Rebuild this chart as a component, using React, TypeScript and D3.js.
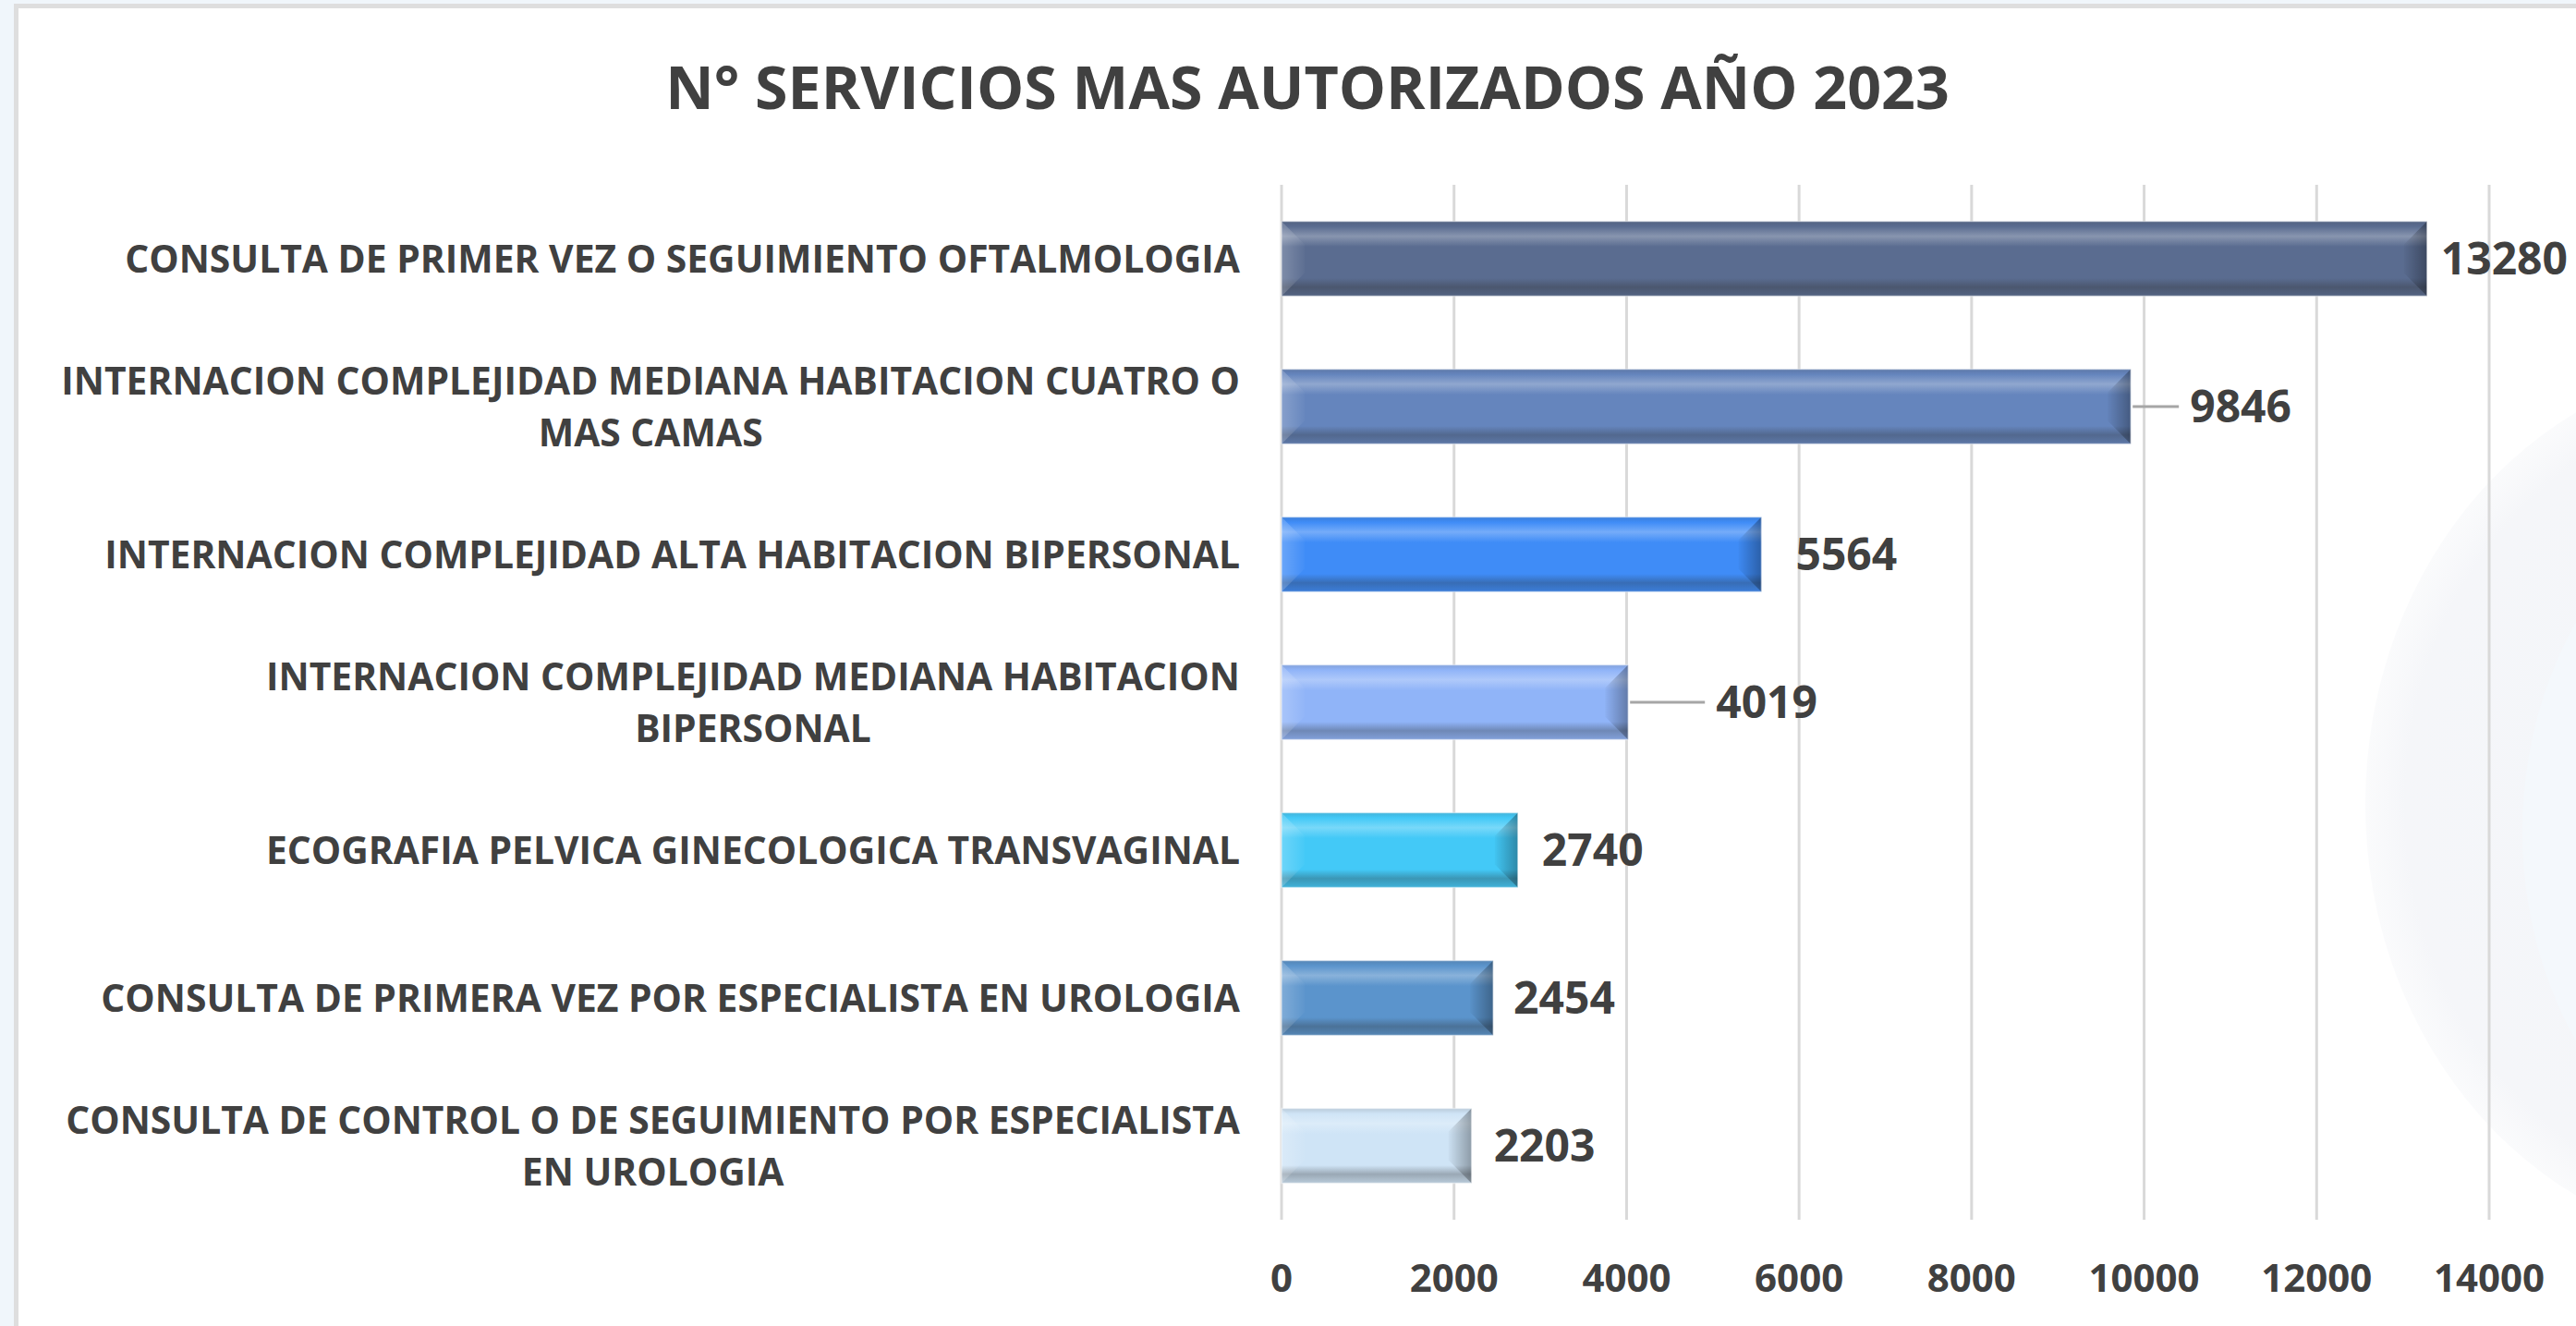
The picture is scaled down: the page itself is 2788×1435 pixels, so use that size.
import React from "react";
import * as d3 from "d3";

const TITLE = "N° SERVICIOS MAS AUTORIZADOS AÑO 2023";
const categories = [
  "CONSULTA DE PRIMER VEZ O SEGUIMIENTO OFTALMOLOGIA",
  "INTERNACION COMPLEJIDAD MEDIANA HABITACION CUATRO O\nMAS CAMAS",
  "INTERNACION COMPLEJIDAD ALTA HABITACION BIPERSONAL",
  "INTERNACION COMPLEJIDAD MEDIANA HABITACION\nBIPERSONAL",
  "ECOGRAFIA PELVICA GINECOLOGICA TRANSVAGINAL",
  "CONSULTA DE PRIMERA VEZ POR ESPECIALISTA EN UROLOGIA",
  "CONSULTA DE CONTROL O DE SEGUIMIENTO POR ESPECIALISTA\nEN UROLOGIA",
];
const values = [13280, 9846, 5564, 4019, 2740, 2454, 2203];
const xTicks = [0, 2000, 4000, 6000, 8000, 10000, 12000, 14000];
const barColors = ["#5a6c90", "#6585bd", "#3f8cf7", "#90b4f8", "#43c9f7", "#5b94cc", "#cfe4f6"];
const labelGaps = [15, 64, 37, 95, 26, 22, 24];
const hasLeader = [false, true, false, true, false, false, false];

const W = 2788;
const H = 1435;
const FONT = "'Open Sans', 'DejaVu Sans', sans-serif";
const TEXT = "#404040";

function measure(text: string, size: number): number {
  const c = document.createElement("canvas");
  const ctx = c.getContext("2d");
  if (!ctx) return text.length * size * 0.6;
  ctx.font = `bold ${size}px 'Open Sans'`;
  return ctx.measureText(text).width;
}

export default function App() {
  const x = d3.scaleLinear().domain([0, 14000]).range([1387, 2694]);
  const y = d3
    .scaleBand<number>()
    .domain(d3.range(categories.length))
    .range([200, 1320])
    .paddingInner(0.494)
    .paddingOuter(0.247);
  const bw = y.bandwidth();
  const bev = 25;
  const catSize = 40.8;
  const labelRight = 1342;

  return (
    <svg width={W} height={H} style={{ position: "absolute", left: 0, top: 0 }} fontFamily={FONT}>
      <defs>
        {barColors.map((c, i) => {
          const base = d3.color(c)!.formatHex();
          const hi = d3.interpolateRgb(c, "#ffffff")(0.28);
          const dk = d3.interpolateRgb(c, "#2a2a2a")(0.32);
          const dk2 = d3.interpolateRgb(c, "#2a2a2a")(0.14);
          return (
            <linearGradient key={i} id={`vg${i}`} x1="0" y1="0" x2="0" y2="1">
              <stop offset="0" stopColor={dk2} />
              <stop offset="0.07" stopColor={base} />
              <stop offset="0.2" stopColor={hi} />
              <stop offset="0.34" stopColor={base} />
              <stop offset="0.76" stopColor={base} />
              <stop offset="0.88" stopColor={dk} />
              <stop offset="1" stopColor={dk2} />
            </linearGradient>
          );
        })}
        <linearGradient id="lg" x1="0" y1="0" x2="1" y2="0">
          <stop offset="0" stopColor="#ffffff" stopOpacity="0.22" />
          <stop offset="1" stopColor="#ffffff" stopOpacity="0.02" />
        </linearGradient>
        <linearGradient id="rg" x1="0" y1="0" x2="1" y2="0">
          <stop offset="0" stopColor="#000000" stopOpacity="0.02" />
          <stop offset="1" stopColor="#000000" stopOpacity="0.32" />
        </linearGradient>
        <radialGradient id="deco" cx="0.5" cy="0.5" r="0.5">
          <stop offset="0" stopColor="#f3f6fa" stopOpacity="1" />
          <stop offset="0.9" stopColor="#f5f6f9" stopOpacity="1" />
          <stop offset="1" stopColor="#f7f8fa" stopOpacity="0.6" />
        </radialGradient>
      </defs>

      {/* background */}
      <rect x={0} y={0} width={W} height={H} fill="#f0f6fb" />
      <rect x={17.5} y={6.5} width={W} height={H} fill="#ffffff" stroke="#dedede" strokeWidth={5} />
      <ellipse cx={2990} cy={870} rx={430} ry={480} fill="url(#deco)" />
      <ellipse cx={3060} cy={900} rx={330} ry={400} fill="#f4f8fc" />

      {/* title */}
      <text
        x={1415}
        y={94.5 + 0.357 * 64.5}
        textAnchor="middle"
        fontSize={64.5}
        fontWeight={700}
        fill={TEXT}
      >
        {TITLE}
      </text>

      {/* gridlines */}
      {xTicks.map((t) => (
        <line key={t} x1={x(t)} x2={x(t)} y1={200} y2={1320} stroke="#d9d9d9" strokeWidth={3} />
      ))}

      {/* tick labels */}
      {xTicks.map((t) => (
        <text
          key={t}
          x={x(t)}
          y={1383 + 0.357 * 42}
          textAnchor="middle"
          fontSize={42}
          fontWeight={700}
          fill={TEXT}
        >
          {t}
        </text>
      ))}

      {/* category labels */}
      {categories.map((c, i) => {
        const lines = c.split("\n");
        const widths = lines.map((l) => measure(l, catSize));
        const maxW = Math.max(...widths);
        const cx = labelRight - maxW / 2;
        const lh = 56;
        const cy = (y(i) as number) + bw / 2;
        const y0 = cy - ((lines.length - 1) * lh) / 2;
        return (
          <g key={i}>
            {lines.map((l, j) => (
              <text
                key={j}
                x={lines.length > 1 ? cx : labelRight}
                y={y0 + j * lh + 0.357 * catSize}
                textAnchor={lines.length > 1 ? "middle" : "end"}
                fontSize={catSize}
                fontWeight={700}
                fill={TEXT}
              >
                {l}
              </text>
            ))}
          </g>
        );
      })}

      {/* bars */}
      {values.map((v, i) => {
        const x0 = x(0);
        const x1 = x(v);
        const y0 = y(i) as number;
        const y1 = y0 + bw;
        const b = Math.min(bev, (x1 - x0) / 2);
        return (
          <g key={i}>
            <rect x={x0} y={y0} width={x1 - x0} height={bw} fill={`url(#vg${i})`} />
            <polygon
              points={`${x0},${y0} ${x0 + b},${y0 + b} ${x0 + b},${y1 - b} ${x0},${y1}`}
              fill="url(#lg)"
            />
            <polygon
              points={`${x1},${y0} ${x1 - b},${y0 + b} ${x1 - b},${y1 - b} ${x1},${y1}`}
              fill="url(#rg)"
            />
            <rect
              x={x0}
              y={y0}
              width={x1 - x0}
              height={bw}
              fill="none"
              stroke="#ffffff"
              strokeOpacity={0.45}
              strokeWidth={1.5}
            />
          </g>
        );
      })}

      {/* leader lines and value labels */}
      {values.map((v, i) => {
        const cy = (y(i) as number) + bw / 2;
        const lx = x(v) + labelGaps[i];
        return (
          <g key={i}>
            {hasLeader[i] && (
              <line x1={x(v) + 2} x2={lx - 12} y1={cy} y2={cy} stroke="#a6a6a6" strokeWidth={3} />
            )}
            <text
              x={lx}
              y={cy + 0.357 * 48}
              fontSize={48}
              fontWeight={700}
              fill={TEXT}
            >
              {v}
            </text>
          </g>
        );
      })}
    </svg>
  );
}
